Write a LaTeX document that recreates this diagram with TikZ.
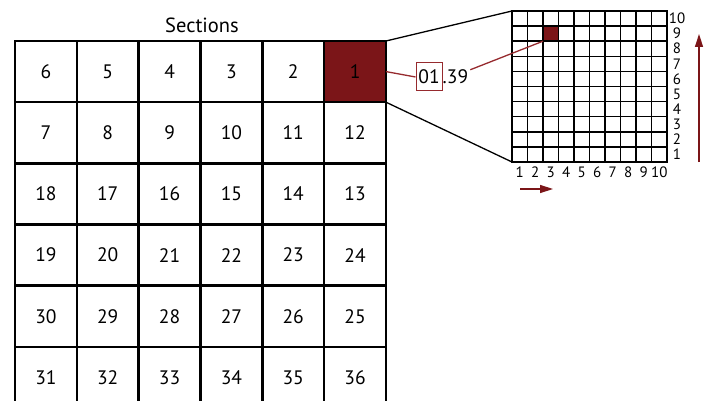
\documentclass[tikz,border=0pt]{standalone}
\usepackage{fontspec}
\setmainfont{PT Sans}
\usetikzlibrary{arrows.meta,positioning}
\definecolor{sec-red}{HTML}{7B1518}
\definecolor{sec-line}{HTML}{962A2E}

\begin{document}
\begin{tikzpicture}[
    x=1pt, y=-1pt,
    >={Triangle[length=13pt,width=8pt]}
  ]
  \tikzset{
    cellbox/.style={draw, line width=2.4pt, minimum width=61.8pt, minimum height=61.2pt, inner sep=0pt, outer sep=0pt, font=\fontsize{19.5}{19.5}\selectfont},
    zoombox/.style={draw, line width=1.6pt, minimum width=155pt, minimum height=151pt, inner sep=0pt, outer sep=0pt},
    pixel/.style={fill=sec-red, minimum width=15.5pt, minimum height=15.1pt, inner sep=0pt, outer sep=0pt},
    pixline/.style={line width=1.4pt},
    ticklabel/.style={font=\fontsize{15}{15}\selectfont, inner sep=0pt},
    valbox/.style={draw=sec-line, line width=1pt, minimum width=26pt, minimum height=28pt, inner sep=1pt, font=\fontsize{19.5}{19.5}\selectfont},
    link/.style={line width=1.3pt},
    redlink/.style={sec-line, line width=1.3pt},
    arrow/.style={->, sec-red, line width=1.4pt}
  }

  \useasboundingbox (0,0) rectangle (714,401);
  \clip (0,0) rectangle (714,401);

  % sections
  \node[font=\fontsize{20.5}{20.5}\selectfont] (title) at (202,25) {Sections};
  \foreach \r in {0,...,5} {
    \foreach \c in {0,...,5} {
      \pgfmathtruncatemacro{\n}{mod(\r,2)==0 ? 6*\r+6-\c : 6*\r+1+\c}
      \node[cellbox] (c\n) at ({15+61.83*(\c+0.5)}, {41+61.17*(\r+0.5)}) {\n};
    }
  }
  \node[cellbox, fill=sec-red] at (c1) {1};

  % zoomed section
  \node[zoombox] (zoom) at (589.5,86.5) {};
  \node[pixel] (px) at (550.75,33.65) {};
  \foreach \i in {1,...,9} {
    \draw[pixline] ({512+15.5*\i}, 11) -- ({512+15.5*\i}, 162);
    \draw[pixline] (512, {11+15.1*\i}) -- (667, {11+15.1*\i});
  }
  \foreach \i in {1,...,10} {
    \node[ticklabel] (col\i) at ({512+15.5*(\i-0.5)}, 172) {\i};
    \node[ticklabel] (row\i) at (677, {162-15.1*(\i-0.5)}) {\i};
  }

  \draw[link] (c1.north east) -- (zoom.north west);
  \draw[link] (c1.south east) -- (zoom.south west);

  % pixel value
  \node[valbox] (val) at (429,77) {01};
  \node[anchor=base west, inner sep=0pt, font=\fontsize{19.5}{19.5}\selectfont] (dec) at (val.base east) {.39};
  \draw[redlink] (c1.east) -- (val.west);
  \draw[redlink] ([xshift=2pt]dec.north east) -- (px.south west);

  % scan directions
  \coordinate (hfrom) at (520,189);
  \coordinate (hto) at (553,189);
  \coordinate (vfrom) at (699,162);
  \coordinate (vto) at (699,34);
  \draw[arrow] (hfrom) -- (hto);
  \draw[arrow] (vfrom) -- (vto);
\end{tikzpicture}
\end{document}
